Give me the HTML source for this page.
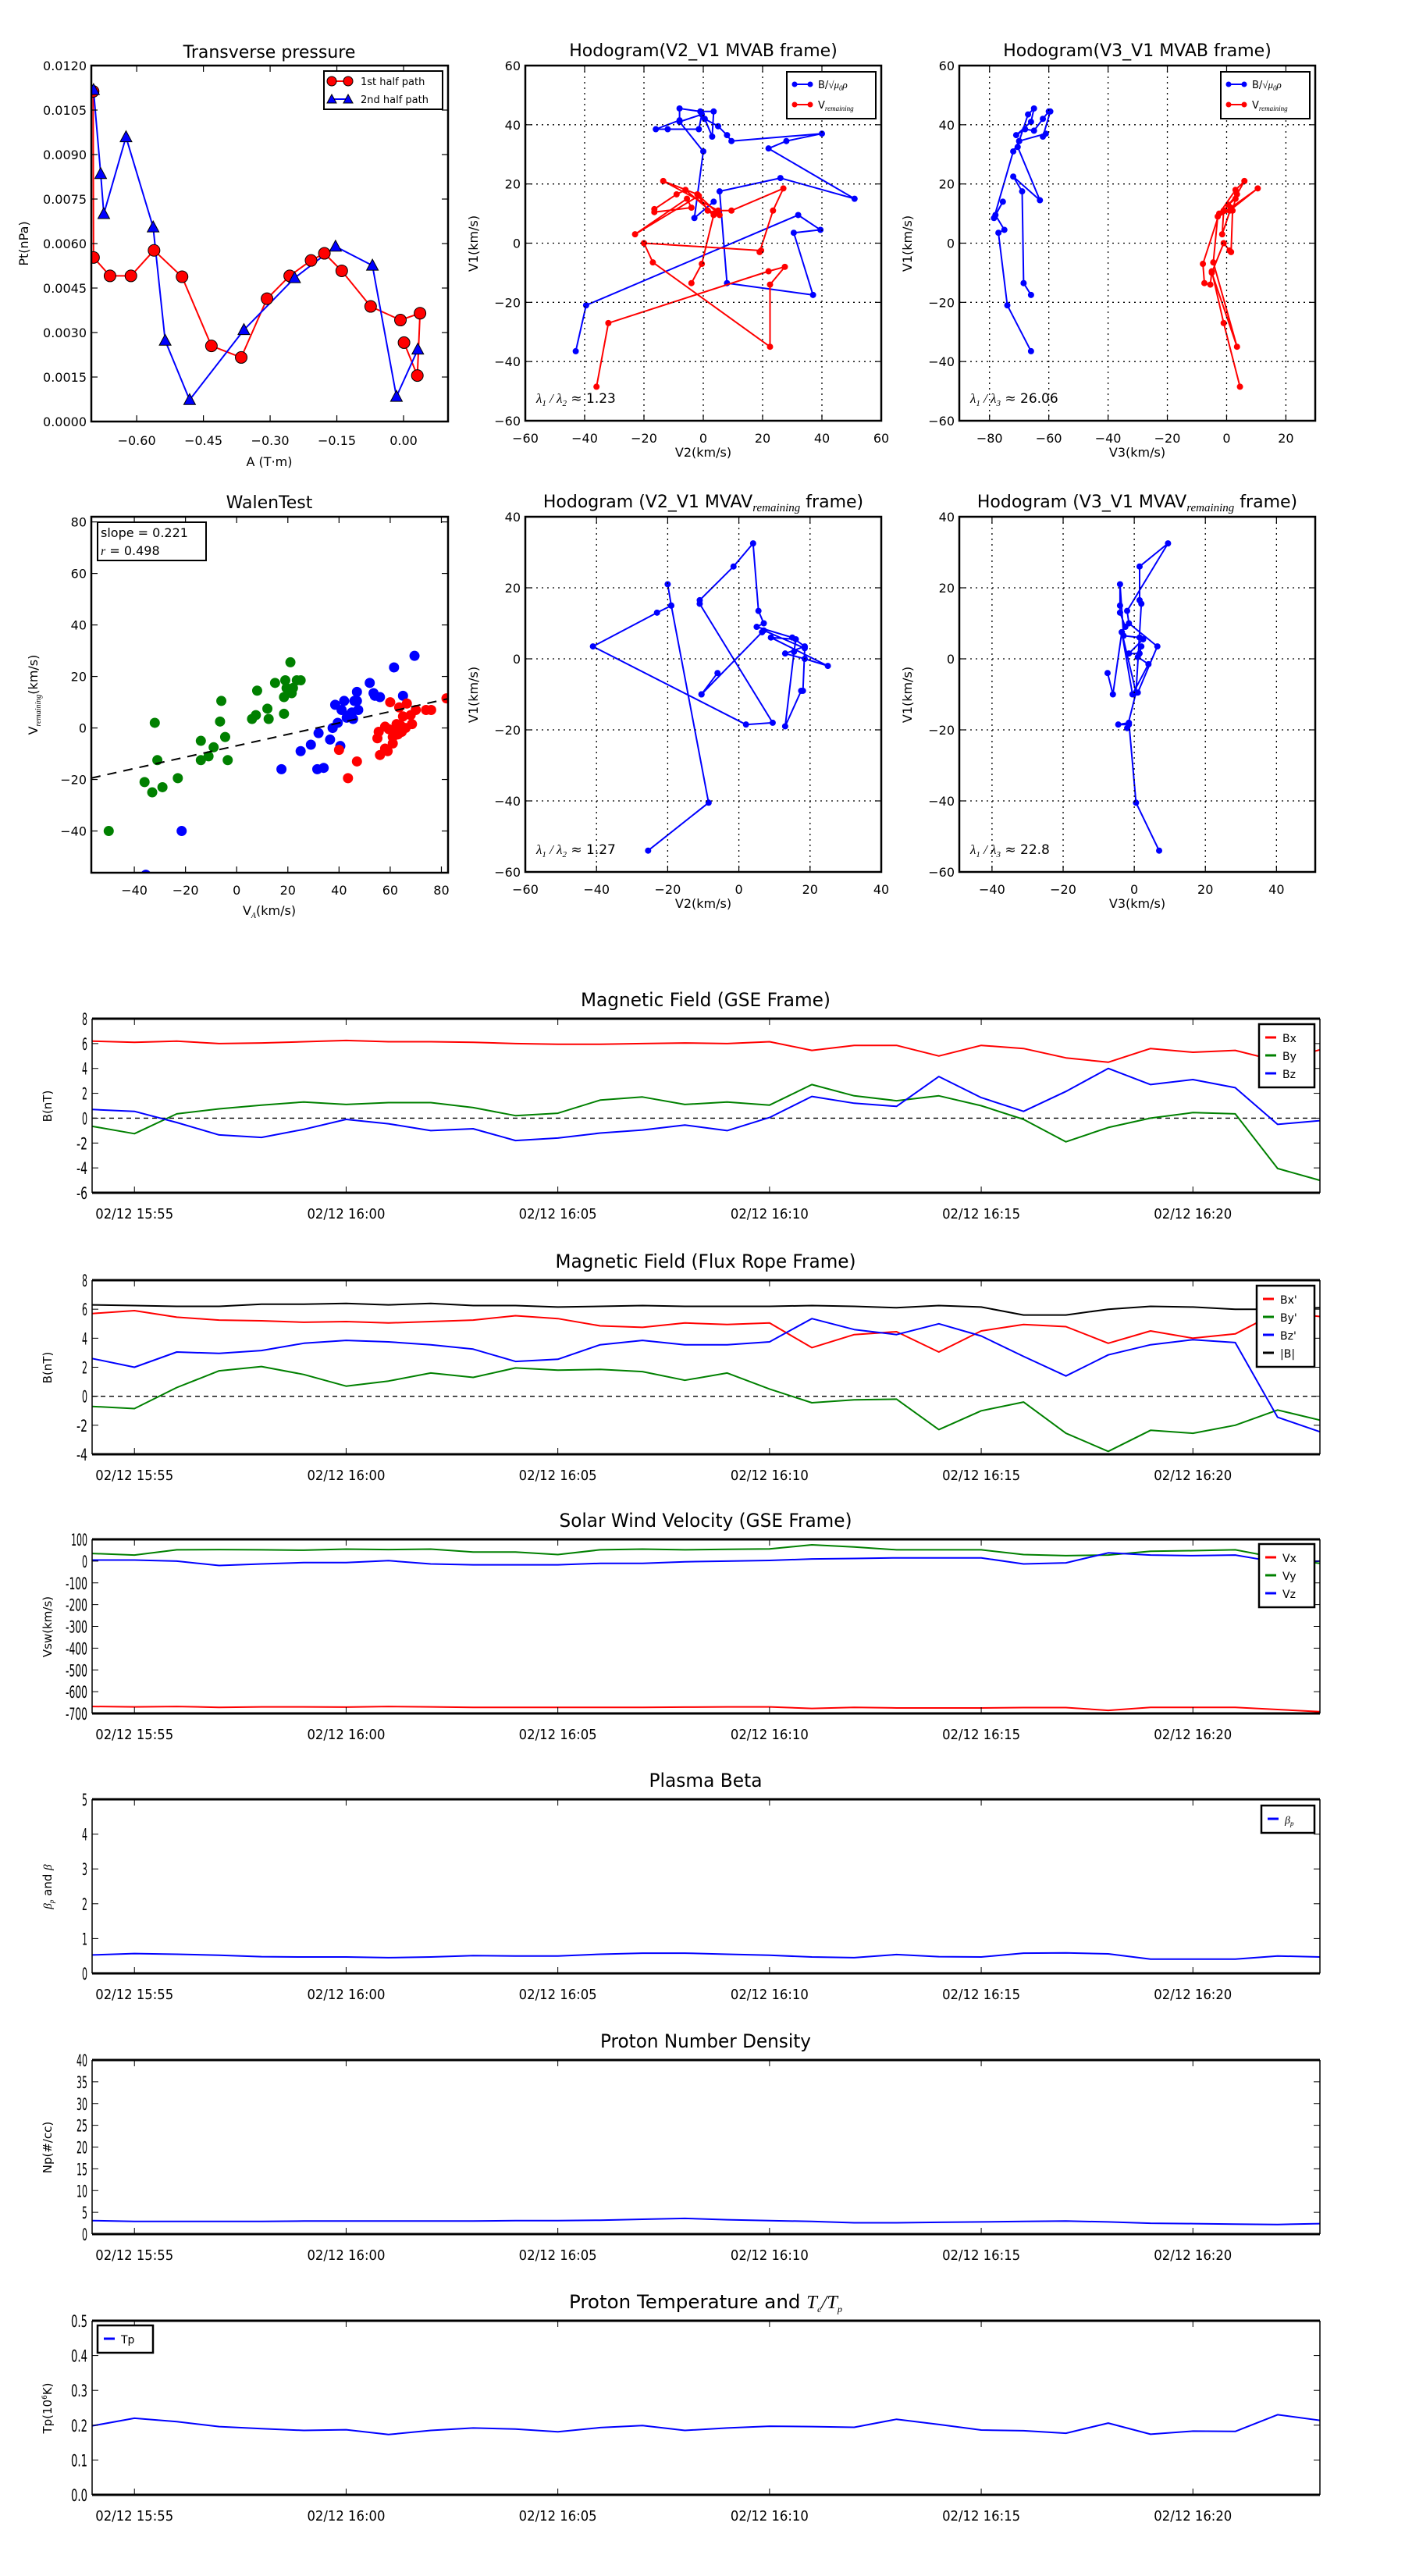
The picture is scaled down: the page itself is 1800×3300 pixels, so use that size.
<!DOCTYPE html>
<html><head><meta charset="utf-8">
<style>
html,body{margin:0;padding:0;background:#fff;}
svg{display:block;font-family:"DejaVu Sans","Liberation Sans",sans-serif;}
</style></head>
<body>
<svg id="fig" xmlns="http://www.w3.org/2000/svg" width="1800" height="3300" viewBox="0 0 1800 3300"></svg>
<script>
// ---------- DATA ----------
const tpRedA=[-0.698,-0.697,-0.660,-0.613,-0.561,-0.498,-0.432,-0.365,-0.307,-0.256,-0.208,-0.178,-0.139,-0.074,-0.007,0.037,0.031,0.001];
const tpRedP=[0.01113,0.00553,0.00491,0.00491,0.00577,0.00488,0.00255,0.00216,0.00414,0.00491,0.00543,0.00567,0.00508,0.00388,0.00342,0.00365,0.00155,0.00266];
const tpBlueA=[-0.697,-0.681,-0.674,-0.624,-0.563,-0.536,-0.481,-0.359,-0.245,-0.153,-0.070,-0.016,0.032];
const tpBlueP=[0.01118,0.00835,0.00700,0.00959,0.00655,0.00273,0.00073,0.00309,0.00484,0.00590,0.00526,0.00084,0.00243];
const tpXTicks=[-0.6,-0.45,-0.3,-0.15,0.0];
const tpXLabels=["\u22120.60","\u22120.45","\u22120.30","\u22120.15","0.00"];
const tpYTicks=[0,0.0015,0.003,0.0045,0.006,0.0075,0.009,0.0105,0.012];

const h1Blue=[[-43,-36.5],[-39.5,-21],[32,9.5],[39.5,4.5],[30.5,3.5],[37,-17.5],[8,-13.5],[5.5,17.5],[26,22],[51,15],[22,32],[28,34.5],[40,37],[9.5,34.5],[8,36.5],[5,39.5],[0.5,42],[3,36],[3.5,44.5],[-1,44.5],[-8,45.5],[-8,41.5],[-16,38.5],[-12,38.5],[-1.5,38.5],[-0.5,43.5],[-8,41],[0,31],[-3,8.5],[3.5,14]];
const h1Red=[[-36,-48.5],[-32,-27],[22,-9.5],[27.5,-8],[22.5,-14],[22.5,-35],[-17,-6.5],[-20,0],[19.5,-2.5],[19,-3],[23.5,11],[27,18.5],[9.5,11],[5,11],[-13.5,21],[-2,16.5],[5.5,9.5],[3.5,10],[-6,18],[-9,16.5],[-16.5,11.5],[-16.5,10.5],[-4,12],[-5.5,15],[-23,3],[-1.5,16],[1.5,11],[3.5,9.5],[-0.5,-7],[-4,-13.5]];
const h2Blue=[[-66,-36.5],[-74,-21],[-77,3.5],[-75,4.5],[-78,9.5],[-75.5,14],[-78.5,8.5],[-72,31],[-70,34.5],[-67,43.5],[-65,45.5],[-66,41],[-71,36.5],[-68,38.5],[-65,38],[-62,42],[-60,44.5],[-59.5,44.5],[-62,36],[-61,37],[-70,34.5],[-70.5,32.5],[-63,14.5],[-72,22.5],[-69,17.5],[-68.5,-13.5],[-66,-17.5]];
const h2Red=[[4.5,-48.5],[-1,-27],[-5,-9.5],[-5.5,-14],[-7.5,-13.5],[-8,-7],[-2.5,10],[3,18],[6,21],[3.5,16.5],[-1,11],[-1.5,3],[1.5,12],[10.5,18.5],[1,11],[-3,9],[-4.5,-6.5],[3.5,-35],[-5,-10],[-1,0],[1,-2.5],[1.5,-3],[2,11],[3,15],[0.5,13]];
const h3Blue=[[-25.5,-54],[-8.5,-40.5],[-19,15],[-20,21],[-19,15],[-23,13],[-41,3.5],[2,-18.5],[9.5,-18],[-11,15.5],[-11,16.5],[-1.5,26],[4,32.5],[5.5,13.5],[7,10],[5,9],[15,6],[18.5,3.5],[13,1.5],[18.5,0],[25,-2],[9,6],[16,5.5],[15.5,2],[13,-19],[17.5,-9],[18,-9],[18.5,3],[7,8],[6.5,7.5],[-10.5,-10],[-6,-4],[-10.5,-10]];
const h4Blue=[[7,-54],[0.5,-40.5],[-1.5,-18],[-4.5,-18.5],[-1.5,-18.5],[-2,-19.5],[0.5,-9.5],[1,-9.5],[6.5,3.5],[-1.5,10],[-2,13.5],[9.5,32.5],[1.5,26],[1.5,16.5],[2,15.5],[0.5,-9.5],[-3.5,7.5],[-2.5,9],[-4,13],[-4,15],[-4,21],[-3,6.5],[1.5,6],[2.5,5.5],[-1.5,1.5],[1.5,1.5],[2,3.5],[1,0.5],[4,-1.5],[-0.5,-10],[-3.5,7.5],[-6,-10],[-7.5,-4]];

const wGreen=[[-50,-40],[-32,2],[-36,-21],[-33,-25],[-31,-12.5],[-29,-23],[-23,-19.5],[-14,-5],[-14,-12.5],[-11,-11],[-9,-7.5],[-6,10.5],[-6.5,2.5],[-4.5,-3.5],[-3.5,-12.5],[6,3.5],[7.5,5],[8,14.5],[12,7.5],[12.5,3.5],[15,17.5],[18.5,12],[18.5,5.5],[19,18.5],[19.5,15.5],[21,25.5],[21.5,13.5],[22,15.5],[23.5,18.5],[25,18.5]];
const wBlue=[[-35.5,-57],[-21.5,-40],[17.5,-16],[25,-9],[29,-6.5],[31.5,-16],[32,-2],[34,-15.5],[36.5,-4.5],[37.5,0],[38.5,9],[39.5,2],[40.5,-7],[41,7],[42,10.5],[43,4],[44,5],[45,6],[45.5,3.5],[46,10.5],[47,14],[47,10.5],[47.5,7],[52,17.5],[53.5,13.5],[54,12.5],[56,12],[61.5,23.5],[65,12.5],[69.5,28]];
const wRed=[[40,-8.5],[43.5,-19.5],[47,-13],[55,-4],[55.5,-1.5],[56,-10.5],[58,0.5],[58,-8],[59,-9],[59.5,-0.5],[60,10],[61,-3.5],[61,-6],[62,-1],[62.5,1.5],[63,-2.5],[63.5,8],[64,1],[64.5,-1.5],[65,4.5],[66,0],[66.5,9.5],[68,5],[68.5,1.5],[70,7],[74,7],[76,7],[82,11.5]];
const wSlope=0.221, wIntercept=-6.9;

const timeLabels=["02/12 15:55","02/12 16:00","02/12 16:05","02/12 16:10","02/12 16:15","02/12 16:20"];
const timeTickMin=[1,6,11,16,21,26];
const bx=[6.2,6.1,6.2,6.0,6.05,6.15,6.25,6.15,6.15,6.1,6.0,5.95,5.95,6.0,6.05,6.0,6.15,5.45,5.85,5.85,5.0,5.85,5.6,4.85,4.5,5.6,5.3,5.45,4.6,5.5];
const by=[-0.65,-1.25,0.35,0.75,1.05,1.3,1.1,1.25,1.25,0.85,0.2,0.4,1.45,1.7,1.1,1.3,1.05,2.7,1.8,1.4,1.8,1.0,-0.1,-1.9,-0.75,0.0,0.45,0.35,-4.05,-5.0];
const bz=[0.7,0.55,-0.35,-1.35,-1.55,-0.9,-0.1,-0.45,-1.0,-0.85,-1.8,-1.6,-1.2,-0.95,-0.55,-1.0,0.05,1.75,1.2,0.95,3.35,1.65,0.55,2.15,4.0,2.7,3.1,2.45,-0.5,-0.2];
const bmag=[6.3,6.25,6.2,6.2,6.35,6.35,6.4,6.3,6.4,6.25,6.25,6.15,6.2,6.25,6.2,6.2,6.2,6.25,6.2,6.1,6.25,6.15,5.6,5.6,6.0,6.2,6.15,6.0,6.0,6.1];
const bxp=[5.7,5.9,5.45,5.25,5.2,5.1,5.15,5.05,5.15,5.25,5.55,5.35,4.85,4.75,5.05,4.95,5.05,3.35,4.25,4.45,3.05,4.5,4.95,4.8,3.65,4.5,4.0,4.3,5.8,5.5];
const byp=[-0.7,-0.85,0.6,1.75,2.05,1.5,0.7,1.05,1.6,1.3,1.95,1.8,1.85,1.7,1.1,1.6,0.5,-0.45,-0.25,-0.2,-2.3,-1.0,-0.4,-2.55,-3.8,-2.35,-2.55,-2.0,-0.95,-1.65];
const bzp=[2.6,2.0,3.05,2.95,3.15,3.65,3.85,3.75,3.55,3.25,2.4,2.55,3.55,3.85,3.55,3.55,3.75,5.35,4.6,4.25,5.0,4.15,2.75,1.4,2.85,3.55,3.9,3.7,-1.45,-2.45];
const vx=[-668,-670,-668,-672,-670,-670,-671,-668,-670,-672,-672,-672,-672,-672,-671,-670,-670,-677,-672,-675,-675,-675,-673,-673,-686,-672,-672,-672,-682,-692];
const vy=[35,28,52,53,52,50,55,53,55,42,42,30,52,55,52,54,56,75,65,52,52,52,30,25,28,45,48,52,15,-10];
const vz=[5,5,0,-20,-13,-7,-7,2,-13,-17,-17,-17,-10,-10,-3,0,3,10,12,15,15,15,-13,-8,38,28,25,28,-5,0];
const betaP=[0.53,0.57,0.55,0.52,0.48,0.47,0.47,0.45,0.47,0.51,0.5,0.5,0.55,0.58,0.58,0.55,0.52,0.47,0.45,0.54,0.48,0.47,0.58,0.59,0.56,0.41,0.41,0.41,0.5,0.47];
const np=[3.1,2.9,2.9,2.9,2.9,3.0,3.0,3.0,3.0,3.0,3.1,3.1,3.2,3.4,3.6,3.3,3.1,2.9,2.6,2.6,2.7,2.8,2.9,3.0,2.8,2.5,2.4,2.3,2.2,2.4];
const tp=[0.198,0.22,0.21,0.196,0.19,0.185,0.187,0.173,0.185,0.192,0.189,0.181,0.193,0.199,0.185,0.192,0.197,0.196,0.194,0.217,0.202,0.186,0.184,0.177,0.206,0.174,0.183,0.182,0.23,0.214];

// ---------- helpers ----------
const NS="http://www.w3.org/2000/svg";
const fig=document.getElementById('fig');
let clipId=0;
function mk(tag,name,parent,attrs){
  const el=document.createElementNS(NS,tag);
  
  
  for(const k in attrs) el.setAttribute(k,attrs[k]);
  (parent||fig).appendChild(el);
  return el;
}
function txt(name,parent,x,y,s,attrs){
  const el=mk('text',name,parent,Object.assign({x:x,y:y,fill:'#000'},attrs||{}));
  el.textContent=s; return el;
}
function html(name,parent,x,y,markup,attrs){
  const el=mk('text',name,parent,Object.assign({x:x,y:y,fill:'#000'},attrs||{}));
  el.innerHTML=markup; return el;
}
function panel(name,x0,y0,w,h,xmin,xmax,ymin,ymax){
  const g=mk('g',name,fig,{});
  const sx=v=>x0+(v-xmin)/(xmax-xmin)*w;
  const sy=v=>y0+h-(v-ymin)/(ymax-ymin)*h;
  clipId++;
  const cp=mk('clipPath','clip',g,{id:'c'+clipId});
  mk('rect','clip-rect',cp,{x:x0,y:y0,width:w,height:h});
  const plot=mk('g','plot-area',g,{'clip-path':'url(#c'+clipId+')'});
  return {g,plot,sx,sy,x0,y0,w,h};
}
function frame(P,lw){
  mk('rect','axes-frame',P.g,{x:P.x0,y:P.y0,width:P.w,height:P.h,fill:'none',stroke:'#000','stroke-width':lw||2.5});
}
function xticks(P,vals,labels,grid,fs,dy){
  vals.forEach((v,i)=>{
    const x=P.sx(v);
    if(grid) mk('line','x-grid',P.g,{x1:x,x2:x,y1:P.y0,y2:P.y0+P.h,stroke:'#000','stroke-dasharray':'2,5','stroke-width':1.3});
    mk('line','x-tick',P.g,{x1:x,x2:x,y1:P.y0+P.h,y2:P.y0+P.h-8,stroke:'#000','stroke-width':1.2});
    mk('line','x-tick',P.g,{x1:x,x2:x,y1:P.y0,y2:P.y0+8,stroke:'#000','stroke-width':1.2});
    txt('x-tick-label',P.g,x,P.y0+P.h+(dy||25),labels[i],{'text-anchor':'middle','font-size':fs||16});
  });
}
function yticks(P,vals,labels,grid,fs){
  vals.forEach((v,i)=>{
    const y=P.sy(v);
    if(grid) mk('line','y-grid',P.g,{x1:P.x0,x2:P.x0+P.w,y1:y,y2:y,stroke:'#000','stroke-dasharray':'2,5','stroke-width':1.3});
    mk('line','y-tick',P.g,{x1:P.x0,x2:P.x0+8,y1:y,y2:y,stroke:'#000','stroke-width':1.2});
    mk('line','y-tick',P.g,{x1:P.x0+P.w,x2:P.x0+P.w-8,y1:y,y2:y,stroke:'#000','stroke-width':1.2});
    txt('y-tick-label',P.g,P.x0-6,y+6,labels[i],{'text-anchor':'end','font-size':fs||16});
  });
}
function poly(P,name,xs,ys,color,lw){
  const pts=xs.map((x,i)=>P.sx(x).toFixed(1)+','+P.sy(ys[i]).toFixed(1)).join(' ');
  return mk('polyline',name,P.plot,{points:pts,fill:'none',stroke:color,'stroke-width':lw||2,'stroke-linejoin':'round'});
}
const fmtm=v=>(v<0?'\u2212':'')+Math.abs(v);

// ---------- Transverse pressure ----------
(function(){
  const P=panel('transverse-pressure-chart',117,84,457,456,-0.702,0.1,0,0.012);
  xticks(P,tpXTicks,tpXLabels,false,16,30);
  yticks(P,tpYTicks,tpYTicks.map(v=>v.toFixed(4)),false,16);
  poly(P,'series-1st-half-line',tpRedA,tpRedP,'#ff0000',2);
  poly(P,'series-2nd-half-line',tpBlueA,tpBlueP,'#0000ff',2);
  tpRedA.forEach((a,i)=>{
    mk('circle','marker-1st-half',P.plot,{cx:P.sx(a),cy:P.sy(tpRedP[i]),r:7.5,fill:'#ff0000',stroke:'#000','stroke-width':1});
  });
  tpBlueA.forEach((a,i)=>{
    const x=P.sx(a),y=P.sy(tpBlueP[i]);
    mk('polygon','marker-2nd-half',P.plot,{points:`${x},${y-8} ${x-7.5},${y+6} ${x+7.5},${y+6}`,fill:'#0000ff',stroke:'#000','stroke-width':1});
  });
  frame(P);
  txt('chart-title',P.g,345,74,'Transverse pressure',{'text-anchor':'middle','font-size':22});
  txt('x-axis-title',P.g,345,597,'A (T\u00b7m)',{'text-anchor':'middle','font-size':16});
  txt('y-axis-title',P.g,36,312,'Pt(nPa)',{'text-anchor':'middle','font-size':16,transform:'rotate(-90 36 312)'});
  const L=mk('g','legend',P.g,{});
  mk('rect','legend-box',L,{x:415,y:91,width:152,height:49,fill:'#fff',stroke:'#000','stroke-width':2});
  mk('line','legend-line',L,{x1:425,x2:446,y1:104,y2:104,stroke:'#f00','stroke-width':2});
  mk('circle','legend-marker',L,{cx:425,cy:104,r:6,fill:'#f00',stroke:'#000'});
  mk('circle','legend-marker',L,{cx:446,cy:104,r:6,fill:'#f00',stroke:'#000'});
  txt('legend-entry',L,462,109,'1st half path',{'font-size':13});
  mk('line','legend-line',L,{x1:425,x2:446,y1:127,y2:127,stroke:'#00f','stroke-width':2});
  mk('polygon','legend-marker',L,{points:'425,121 419,132 431,132',fill:'#00f',stroke:'#000'});
  mk('polygon','legend-marker',L,{points:'446,121 440,132 452,132',fill:'#00f',stroke:'#000'});
  txt('legend-entry',L,462,132,'2nd half path',{'font-size':13});
})();

// ---------- Hodograms ----------
function hodo(name,x0,y0,xmin,xmax,ymin,ymax,xt,yt,series,title,xlab,ylabX,ratio,legend){
  const P=panel(name,x0,y0,456,455,xmin,xmax,ymin,ymax);
  xticks(P,xt,xt.map(fmtm),true,16,28);
  yticks(P,yt,yt.map(fmtm),true,16);
  series.forEach(s=>{
    const xs=s.d.map(p=>p[0]), ys=s.d.map(p=>p[1]);
    poly(P,s.name+'-line',xs,ys,s.c,2);
    s.d.forEach(p=>{ mk('circle',s.name+'-point',P.plot,{cx:P.sx(p[0]),cy:P.sy(p[1]),r:4,fill:s.c}); });
  });
  frame(P);
  html('chart-title',P.g,x0+228,y0-12,title,{'text-anchor':'middle','font-size':22});
  txt('x-axis-title',P.g,x0+228,y0+501,xlab,{'text-anchor':'middle','font-size':16});
  txt('y-axis-title',P.g,ylabX,y0+228,'V1(km/s)',{'text-anchor':'middle','font-size':16,transform:`rotate(-90 ${ylabX} ${y0+228})`});
  html('eigenvalue-ratio',P.g,x0+14,y0+432,ratio,{'font-size':17});
  if(legend){
    const L=mk('g','legend',P.g,{});
    const lx=x0+335;
    mk('rect','legend-box',L,{x:lx,y:y0+8,width:114,height:60,fill:'#fff',stroke:'#000','stroke-width':2});
    mk('line','legend-line',L,{x1:lx+10,x2:lx+30,y1:y0+24,y2:y0+24,stroke:'#00f','stroke-width':2});
    mk('circle','legend-marker',L,{cx:lx+10,cy:y0+24,r:3.5,fill:'#00f'});
    mk('circle','legend-marker',L,{cx:lx+30,cy:y0+24,r:3.5,fill:'#00f'});
    html('legend-entry',L,lx+40,y0+29,'B/<tspan font-style="italic" font-family="Liberation Serif">\u221a\u03bc<tspan font-size="9" dy="3">0</tspan><tspan dy="-3">\u03c1</tspan></tspan>',{'font-size':13});
    mk('line','legend-line',L,{x1:lx+10,x2:lx+30,y1:y0+50,y2:y0+50,stroke:'#f00','stroke-width':2});
    mk('circle','legend-marker',L,{cx:lx+10,cy:y0+50,r:3.5,fill:'#f00'});
    mk('circle','legend-marker',L,{cx:lx+30,cy:y0+50,r:3.5,fill:'#f00'});
    html('legend-entry',L,lx+40,y0+55,'V<tspan font-size="9" dy="3" font-style="italic" font-family="Liberation Serif">remaining</tspan>',{'font-size':13});
  }
  return P;
}
const rem='<tspan font-family="Liberation Serif" font-style="italic" font-size="15" dy="5">remaining</tspan><tspan dy="-5">';
function lam(a,b,v){return `<tspan font-family="Liberation Serif" font-style="italic">\u03bb<tspan font-size="11" dy="4">${a}</tspan><tspan dy="-4"> / \u03bb</tspan><tspan font-size="11" dy="4">${b}</tspan></tspan><tspan dy="-4"> \u2248 ${v}</tspan>`;}
hodo('hodogram-v2-v1-mvab',673,84,-60,60,-60,60,[-60,-40,-20,0,20,40,60],[-60,-40,-20,0,20,40,60],
  [{name:'b-alfven',d:h1Blue,c:'#0000ff'},{name:'v-remaining',d:h1Red,c:'#ff0000'}],
  'Hodogram(V2_V1 MVAB frame)','V2(km/s)',612,lam(1,2,'1.23'),true);
hodo('hodogram-v3-v1-mvab',1229,84,-90.2,29.9,-60,60,[-80,-60,-40,-20,0,20],[-60,-40,-20,0,20,40,60],
  [{name:'b-alfven',d:h2Blue,c:'#0000ff'},{name:'v-remaining',d:h2Red,c:'#ff0000'}],
  'Hodogram(V3_V1 MVAB frame)','V3(km/s)',1168,lam(1,3,'26.06'),true);
hodo('hodogram-v2-v1-mvav',673,662,-60,40,-60,40,[-60,-40,-20,0,20,40],[-60,-40,-20,0,20,40],
  [{name:'v-remaining',d:h3Blue,c:'#0000ff'}],
  'Hodogram (V2_V1 MVAV'+rem+' frame)</tspan>','V2(km/s)',612,lam(1,2,'1.27'),false);
hodo('hodogram-v3-v1-mvav',1229,662,-49.2,50.9,-60,40,[-40,-20,0,20,40],[-60,-40,-20,0,20,40],
  [{name:'v-remaining',d:h4Blue,c:'#0000ff'}],
  'Hodogram (V3_V1 MVAV'+rem+' frame)</tspan>','V3(km/s)',1168,lam(1,3,'22.8'),false);

// ---------- Walen test ----------
(function(){
  const P=panel('walen-test-chart',117,662,457,456,-56.8,82.6,-56.2,82);
  const xt=[-40,-20,0,20,40,60,80], yt=[-40,-20,0,20,40,60,80];
  xticks(P,xt,xt.map(fmtm),false,16,28);
  yticks(P,yt,yt.map(fmtm),false,16);
  [[wGreen,'#008000','walen-point-green'],[wBlue,'#0000ff','walen-point-blue'],[wRed,'#ff0000','walen-point-red']].forEach(s=>{
    s[0].forEach(p=>{ mk('circle',s[2],P.plot,{cx:P.sx(p[0]),cy:P.sy(p[1]),r:6.5,fill:s[1]}); });
  });
  const xa=-56.8,xb=82.6;
  mk('line','fit-line',P.plot,{x1:P.sx(xa),y1:P.sy(wSlope*xa+wIntercept),x2:P.sx(xb),y2:P.sy(wSlope*xb+wIntercept),stroke:'#000','stroke-width':2,'stroke-dasharray':'12,9'});
  frame(P);
  txt('chart-title',P.g,345,651,'WalenTest',{'text-anchor':'middle','font-size':22});
  html('x-axis-title',P.g,345,1172,'V<tspan font-size="10" dy="4" font-style="italic" font-family="Liberation Serif">A</tspan><tspan dy="-4">(km/s)</tspan>',{'text-anchor':'middle','font-size':16});
  html('y-axis-title',P.g,48,890,'V<tspan font-size="10" dy="4" font-style="italic" font-family="Liberation Serif">remaining</tspan><tspan dy="-4">(km/s)</tspan>',{'text-anchor':'middle','font-size':16,transform:'rotate(-90 48 890)'});
  const L=mk('g','stats-box',P.g,{});
  mk('rect','stats-box-frame',L,{x:125,y:669,width:139,height:49,fill:'#fff',stroke:'#000','stroke-width':2});
  txt('slope-label',L,129,688,'slope = 0.221',{'font-size':16});
  html('r-label',L,129,711,'<tspan font-style="italic" font-family="Liberation Serif">r</tspan> = 0.498',{'font-size':16});
})();

// ---------- Time-series panels ----------
function tpanel(name,y0,ymin,ymax,yt,ylabs,title,ylab,series,legend,zero){
  const P=panel(name,118,y0,1573,223,0,29,ymin,ymax);
  timeTickMin.forEach((m,i)=>{
    const x=P.sx(m);
    mk('line','x-tick',P.g,{x1:x,x2:x,y1:y0+223,y2:y0+215,stroke:'#000'});
    mk('line','x-tick',P.g,{x1:x,x2:x,y1:y0,y2:y0+8,stroke:'#000'});
    txt('x-tick-label',P.g,x,y0+256,timeLabels[i],{'text-anchor':'middle','font-size':18,textLength:100,lengthAdjust:'spacingAndGlyphs'});
  });
  yt.forEach((v,i)=>{
    const y=P.sy(v);
    mk('line','y-tick',P.g,{x1:118,x2:126,y1:y,y2:y,stroke:'#000'});
    mk('line','y-tick',P.g,{x1:1691,x2:1683,y1:y,y2:y,stroke:'#000'});
    const s=ylabs[i];
    txt('y-tick-label',P.g,112,y+8,s,{'text-anchor':'end','font-size':21,textLength:s.length*7,lengthAdjust:'spacingAndGlyphs'});
  });
  if(zero) mk('line','zero-line',P.plot,{x1:118,x2:1691,y1:P.sy(0),y2:P.sy(0),stroke:'#000','stroke-width':1.3,'stroke-dasharray':'6,5'});
  const idx=series[0].d.map((_,i)=>i);
  series.forEach(s=>poly(P,s.name,idx,s.d,s.c,2));
  mk('line','axes-top',P.g,{x1:118,x2:1691,y1:y0,y2:y0,stroke:'#000','stroke-width':3});
  mk('line','axes-bottom',P.g,{x1:118,x2:1691,y1:y0+223,y2:y0+223,stroke:'#000','stroke-width':3});
  mk('line','axes-left',P.g,{x1:118,x2:118,y1:y0,y2:y0+223,stroke:'#000','stroke-width':1.5});
  mk('line','axes-right',P.g,{x1:1691,x2:1691,y1:y0,y2:y0+223,stroke:'#000','stroke-width':1.5});
  html('chart-title',P.g,904,y0-16,title,{'text-anchor':'middle','font-size':24,textLength:title.tl,lengthAdjust:'spacingAndGlyphs'});
  html('y-axis-title',P.g,66,y0+112,ylab,{'text-anchor':'middle','font-size':15,transform:`rotate(-90 66 ${y0+112})`});
  if(legend){
    const L=mk('g','legend',P.g,{});
    const h=legend.items.length*23+12;
    mk('rect','legend-box',L,{x:legend.x,y:y0+legend.dy,width:legend.w,height:h,fill:'#fff',stroke:'#000','stroke-width':2.5});
    legend.items.forEach((it,i)=>{
      const yy=y0+legend.dy+17+i*23;
      mk('line','legend-line',L,{x1:legend.x+8,x2:legend.x+22,y1:yy,y2:yy,stroke:it[1],'stroke-width':3});
      html('legend-entry',L,legend.x+30,yy+6,it[0],{'font-size':14});
    });
  }
  return P;
}
function T(s,tl){const o=new String(s);o.tl=tl;return o;}
tpanel('magnetic-field-gse-chart',1305,-6,8,[-6,-4,-2,0,2,4,6,8],['-6','-4','-2','0','2','4','6','8'],
  T('Magnetic Field (GSE Frame)',320),'B(nT)',
  [{name:'bx-line',d:bx,c:'#ff0000'},{name:'by-line',d:by,c:'#008000'},{name:'bz-line',d:bz,c:'#0000ff'}],
  {x:1613,w:71,dy:7,items:[['Bx','#f00'],['By','#008000'],['Bz','#00f']]},true);
tpanel('magnetic-field-flux-rope-chart',1640,-4,8,[-4,-2,0,2,4,6,8],['-4','-2','0','2','4','6','8'],
  T('Magnetic Field (Flux Rope Frame)',385),'B(nT)',
  [{name:'bmag-line',d:bmag,c:'#000000'},{name:'bxp-line',d:bxp,c:'#ff0000'},{name:'byp-line',d:byp,c:'#008000'},{name:'bzp-line',d:bzp,c:'#0000ff'}],
  {x:1610,w:74,dy:7,items:[["Bx'",'#f00'],["By'",'#008000'],["Bz'",'#00f'],['|B|','#000']]},true);
tpanel('solar-wind-velocity-chart',1972,-700,100,[-700,-600,-500,-400,-300,-200,-100,0,100],['-700','-600','-500','-400','-300','-200','-100','0','100'],
  T('Solar Wind Velocity (GSE Frame)',375),'Vsw(km/s)',
  [{name:'vx-line',d:vx,c:'#ff0000'},{name:'vy-line',d:vy,c:'#008000'},{name:'vz-line',d:vz,c:'#0000ff'}],
  {x:1613,w:71,dy:6,items:[['Vx','#f00'],['Vy','#008000'],['Vz','#00f']]},false);
tpanel('plasma-beta-chart',2305,0,5,[0,1,2,3,4,5],['0','1','2','3','4','5'],
  T('Plasma Beta',145),'<tspan font-style="italic" font-family="Liberation Serif">\u03b2<tspan font-size="9" dy="3">p</tspan></tspan><tspan dy="-3"> and </tspan><tspan font-style="italic" font-family="Liberation Serif">\u03b2</tspan>',
  [{name:'beta-p-line',d:betaP,c:'#0000ff'}],
  {x:1616,w:68,dy:8,items:[['<tspan font-style="italic" font-family="Liberation Serif">\u03b2<tspan font-size="9" dy="3">p</tspan></tspan>','#00f']]},false);
tpanel('proton-density-chart',2639,0,40,[0,5,10,15,20,25,30,35,40],['0','5','10','15','20','25','30','35','40'],
  T('Proton Number Density',270),'Np(#/cc)',
  [{name:'density-line',d:np,c:'#0000ff'}],null,false);
tpanel('proton-temperature-chart',2973,0,0.5,[0,0.1,0.2,0.3,0.4,0.5],['0.0','0.1','0.2','0.3','0.4','0.5'],
  T('Proton Temperature and <tspan font-style="italic" font-family="Liberation Serif">T<tspan font-size="12" dy="5">e</tspan><tspan dy="-5">/T</tspan><tspan font-size="12" dy="5">p</tspan></tspan>',350),
  'Tp(10<tspan font-size="9" dy="-6">6</tspan><tspan dy="6">K)</tspan>',
  [{name:'temperature-line',d:tp,c:'#0000ff'}],
  {x:125,w:71,dy:6,items:[['Tp','#00f']]},false);
</script>
</body></html>
